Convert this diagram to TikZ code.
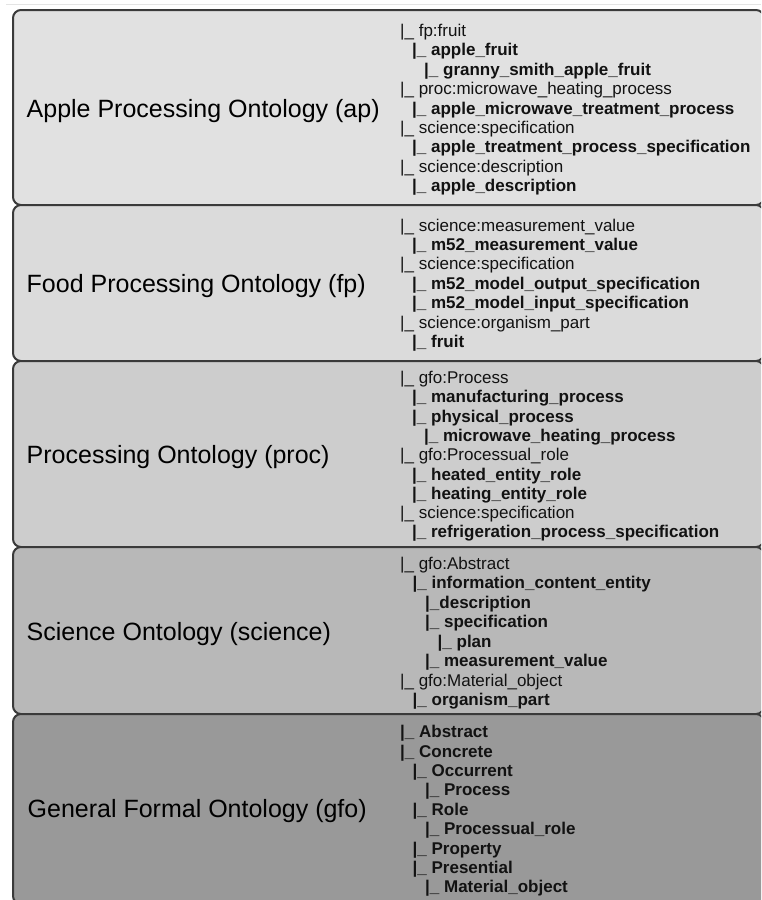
\documentclass[tikz,border=0pt]{standalone}
\usepackage{fontspec}
\setmainfont{Liberation Sans}
\begin{document}
\begin{tikzpicture}[x=1pt,y=-1pt,
  onto/.style={draw=bordergray,line width=2pt,rounded corners=8pt},
  lbl/.style={anchor=base west,inner sep=0pt,font=\fontsize{25}{30}\selectfont,text=black},
  tr/.style={anchor=base west,inner sep=0pt,font=\fontsize{17}{20}\selectfont,text=black!93},
  tb/.style={tr,font=\fontsize{17}{20}\selectfont\bfseries}]
\definecolor{bordergray}{RGB}{58,58,58}
\definecolor{fillA}{RGB}{225,225,225}
\definecolor{fillB}{RGB}{219,219,219}
\definecolor{fillC}{RGB}{205,205,205}
\definecolor{fillD}{RGB}{184,184,184}
\definecolor{fillE}{RGB}{153,153,153}
\definecolor{topline}{RGB}{228,228,228}
\useasboundingbox (0,0) rectangle (761,900);
\clip (0,0) rectangle (761,900);
\fill[white] (0,0) rectangle (761,900);
\draw[topline,line width=1pt] (6,4) -- (761,4);
% boxes
\draw[onto,fill=fillA] (13,10) rectangle (764,205);
\draw[onto,fill=fillB] (13,205) rectangle (764,361);
\draw[onto,fill=fillC] (13,361) rectangle (764,547);
\draw[onto,fill=fillD] (13,547) rectangle (764,714);
\draw[onto,fill=fillE] (13,714) rectangle (764,904);
% labels
\node[lbl] (lap) at (26.5,117) {Apple Processing Ontology (ap)};
\node[lbl] (lfp) at (26.5,292.5) {Food Processing Ontology (fp)};
\node[lbl] (lproc) at (26.5,463.5) {Processing Ontology (proc)};
\node[lbl] (lsci) at (26.5,640) {Science Ontology (science)};
\node[lbl] (lgfo) at (27.5,817) {General Formal Ontology (gfo)};
% box 1
\foreach [count=\i] \lv/\st/\tx in {
  0/tr/{|\_ fp:fruit},
  1/tb/{|\_ apple\_fruit},
  2/tb/{|\_ granny\_smith\_apple\_fruit},
  0/tr/{|\_ proc:microwave\_heating\_process},
  1/tb/{|\_ apple\_microwave\_treatment\_process},
  0/tr/{|\_ science:specification},
  1/tb/{|\_ apple\_treatment\_process\_specification},
  0/tr/{|\_ science:description},
  1/tb/{|\_ apple\_description}}
  \node[\st] (ap\i) at ({400+12*\lv},{36.5+19.4*(\i-1)}) {\tx};
% box 2
\foreach [count=\i] \lv/\st/\tx in {
  0/tr/{|\_ science:measurement\_value},
  1/tb/{|\_ m52\_measurement\_value},
  0/tr/{|\_ science:specification},
  1/tb/{|\_ m52\_model\_output\_specification},
  1/tb/{|\_ m52\_model\_input\_specification},
  0/tr/{|\_ science:organism\_part},
  1/tb/{|\_ fruit}}
  \node[\st] (fp\i) at ({400+12*\lv},{231+19.4*(\i-1)}) {\tx};
% box 3
\foreach [count=\i] \lv/\st/\tx in {
  0/tr/{|\_ gfo:Process},
  1/tb/{|\_ manufacturing\_process},
  1/tb/{|\_ physical\_process},
  2/tb/{|\_ microwave\_heating\_process},
  0/tr/{|\_ gfo:Processual\_role},
  1/tb/{|\_ heated\_entity\_role},
  1/tb/{|\_ heating\_entity\_role},
  0/tr/{|\_ science:specification},
  1/tb/{|\_ refrigeration\_process\_specification}}
  \node[\st] (pr\i) at ({400+12*\lv},{383.5+19.3*(\i-1)}) {\tx};
% box 4
\foreach [count=\i] \lv/\st/\tx in {
  0/tr/{|\_ gfo:Abstract},
  1/tb/{|\_ information\_content\_entity},
  2/tb/{|\_description},
  2/tb/{|\_ specification},
  3/tb/{|\_ plan},
  2/tb/{|\_ measurement\_value},
  0/tr/{|\_ gfo:Material\_object},
  1/tb/{|\_ organism\_part}}
  \node[\st] (sc\i) at ({400+12.5*\lv},{569.3+19.5*(\i-1)}) {\tx};
% box 5
\foreach [count=\i] \lv/\st/\tx in {
  0/tb/{|\_ Abstract},
  0/tb/{|\_ Concrete},
  1/tb/{|\_ Occurrent},
  2/tb/{|\_ Process},
  1/tb/{|\_ Role},
  2/tb/{|\_ Processual\_role},
  1/tb/{|\_ Property},
  1/tb/{|\_ Presential},
  2/tb/{|\_ Material\_object}}
  \node[\st] (gf\i) at ({400+12.5*\lv},{737.7+19.4*(\i-1)}) {\tx};
\end{tikzpicture}
\end{document}
